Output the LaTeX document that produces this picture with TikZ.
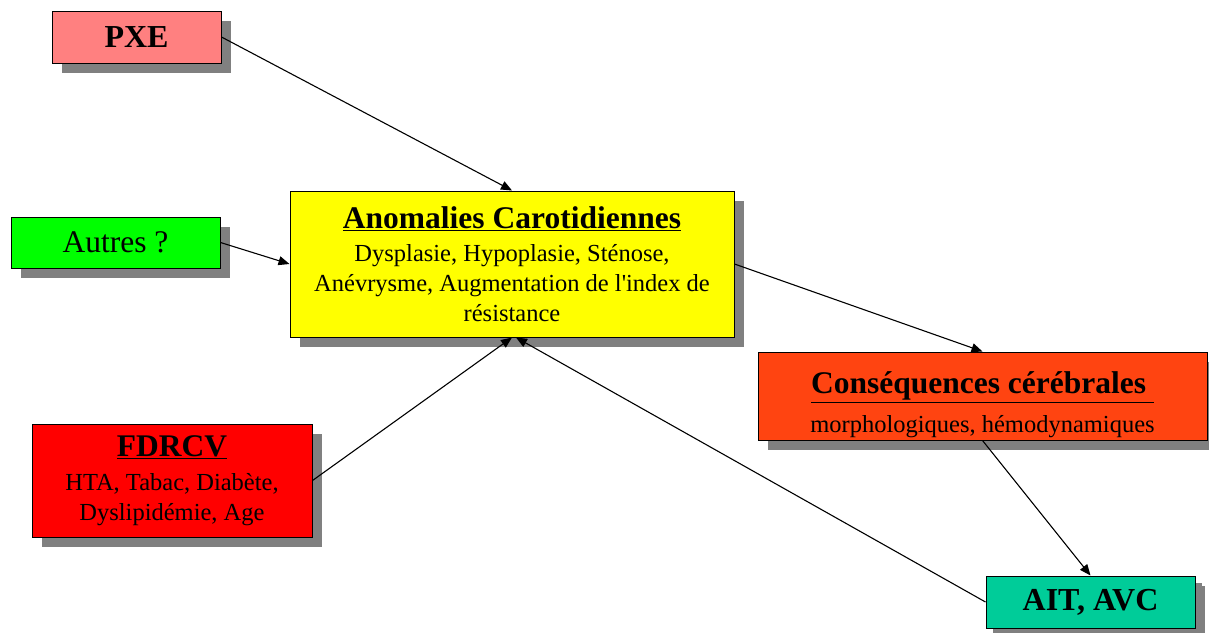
\documentclass[tikz,border=0pt]{standalone}
\usepackage{fontspec}
\setmainfont{Liberation Serif}
\usetikzlibrary{arrows.meta,shadows}
\definecolor{cpxe}{HTML}{FF8080}
\definecolor{cautres}{HTML}{00FF00}
\definecolor{canom}{HTML}{FFFF00}
\definecolor{ccons}{HTML}{FF4411}
\definecolor{cfdr}{HTML}{FF0000}
\definecolor{cait}{HTML}{00CC99}
\definecolor{cshadow}{HTML}{808080}
\newcommand{\ttl}[1]{{\fontsize{31.5}{34}\selectfont\bfseries\underline{#1}}}
\tikzset{
  box/.style={draw=black, line width=1pt, inner sep=0pt, align=center,
    font={\fontsize{24.5}{30}\selectfont},
    drop shadow={shadow xshift=10pt, shadow yshift=-10pt, fill=cshadow, opacity=1}},
  conn/.style={line width=1.1pt, -{Triangle[length=11pt,width=9pt]}},
}
\begin{document}
\begin{tikzpicture}[x=1pt,y=-1pt]
\useasboundingbox (0,0) rectangle (1209,632);
\node[box, fill=cpxe, minimum width=169pt, minimum height=52pt] (pxe) at (136.5,37)
  {\fontsize{32}{36}\selectfont\bfseries PXE};
\node[box, fill=cautres, minimum width=209pt, minimum height=51pt] (autres) at (115.5,242.5)
  {\fontsize{31.5}{34}\selectfont Autres ?};
\node[box, fill=canom, minimum width=444pt, minimum height=146pt] (anom) at (512,264)
  {\ttl{Anomalies Carotidiennes}\\[3pt]
   Dysplasie, Hypoplasie, Sténose,\\
   Anévrysme, Augmentation de l\textquotesingle index de\\ résistance};
\node[box, fill=ccons, minimum width=449pt, minimum height=88pt] (cons) at (982.5,396)
  {\rule{0pt}{40pt}\ttl{Conséquences cérébrales\ }\\[9pt]
   morphologiques, hémodynamiques};
\node[box, fill=cfdr, minimum width=280pt, minimum height=113pt] (fdr) at (172,480.5)
  {\ttl{FDRCV}\\[4pt]
   HTA, Tabac, Diabète,\\ Dyslipidémie, Age};
\node[box, fill=cait, minimum width=209pt, minimum height=52pt,
  drop shadow={shadow xshift=7pt, shadow yshift=-7pt, fill=cshadow, opacity=1}] (ait) at (1090.5,602)
  {\fontsize{32}{36}\selectfont\bfseries AIT, AVC};
\draw[conn] (pxe.east) -- (anom.north);
\draw[conn] (autres.east) -- (anom.west);
\draw[conn] (anom.east) -- (cons.north);
\draw[conn] (fdr.east) -- (anom.south);
\draw[conn] (cons.south) -- (ait.north);
\draw[conn] (ait.west) -- ([xshift=4pt]anom.south);
\end{tikzpicture}
\end{document}
